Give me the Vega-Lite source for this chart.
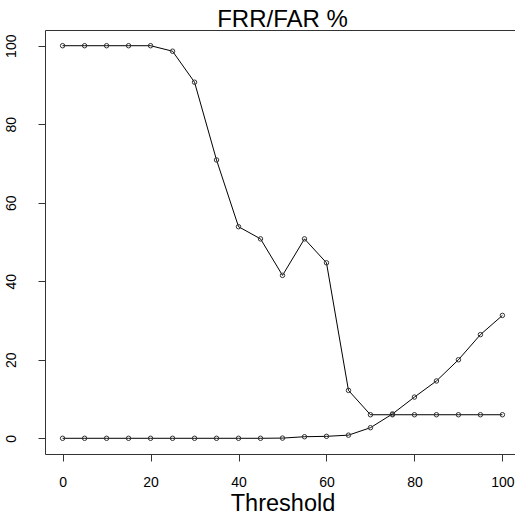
{
  "$schema": "https://vega.github.io/schema/vega-lite/v6.json",
  "autosize": "none",
  "padding": {"left": 45, "top": 30, "right": 0, "bottom": 61},
  "width": 475,
  "height": 424,
  "background": "white",
  "title": {
    "text": "FRR/FAR %",
    "font": "Liberation Sans",
    "fontSize": 24,
    "fontWeight": "normal",
    "color": "#000000",
    "anchor": "middle",
    "frame": "group",
    "baseline": "alphabetic",
    "offset": 4,
    "dy": 25
  },
  "config": {
    "view": {"stroke": "#333333", "strokeWidth": 1},
    "axis": {
      "grid": false,
      "domain": false,
      "tickColor": "#333333",
      "tickSize": 7,
      "labelFont": "Liberation Sans",
      "labelFontSize": 14,
      "labelColor": "#000000",
      "titleFont": "Liberation Sans",
      "titleFontWeight": "normal",
      "titleColor": "#000000"
    }
  },
  "data": {
    "values": [
      {"threshold": 0, "value": 100, "series": "FRR"},
      {"threshold": 5, "value": 100, "series": "FRR"},
      {"threshold": 10, "value": 100, "series": "FRR"},
      {"threshold": 15, "value": 100, "series": "FRR"},
      {"threshold": 20, "value": 100, "series": "FRR"},
      {"threshold": 25, "value": 98.6, "series": "FRR"},
      {"threshold": 30, "value": 90.7, "series": "FRR"},
      {"threshold": 35, "value": 70.9, "series": "FRR"},
      {"threshold": 40, "value": 53.9, "series": "FRR"},
      {"threshold": 45, "value": 50.8, "series": "FRR"},
      {"threshold": 50, "value": 41.5, "series": "FRR"},
      {"threshold": 55, "value": 50.8, "series": "FRR"},
      {"threshold": 60, "value": 44.7, "series": "FRR"},
      {"threshold": 65, "value": 12.2, "series": "FRR"},
      {"threshold": 70, "value": 6.0, "series": "FRR"},
      {"threshold": 75, "value": 6.0, "series": "FRR"},
      {"threshold": 80, "value": 6.0, "series": "FRR"},
      {"threshold": 85, "value": 6.0, "series": "FRR"},
      {"threshold": 90, "value": 6.0, "series": "FRR"},
      {"threshold": 95, "value": 6.0, "series": "FRR"},
      {"threshold": 100, "value": 6.0, "series": "FRR"},
      {"threshold": 0, "value": 0, "series": "FAR"},
      {"threshold": 5, "value": 0, "series": "FAR"},
      {"threshold": 10, "value": 0, "series": "FAR"},
      {"threshold": 15, "value": 0, "series": "FAR"},
      {"threshold": 20, "value": 0, "series": "FAR"},
      {"threshold": 25, "value": 0, "series": "FAR"},
      {"threshold": 30, "value": 0, "series": "FAR"},
      {"threshold": 35, "value": 0, "series": "FAR"},
      {"threshold": 40, "value": 0, "series": "FAR"},
      {"threshold": 45, "value": 0, "series": "FAR"},
      {"threshold": 50, "value": 0.05, "series": "FAR"},
      {"threshold": 55, "value": 0.4, "series": "FAR"},
      {"threshold": 60, "value": 0.5, "series": "FAR"},
      {"threshold": 65, "value": 0.8, "series": "FAR"},
      {"threshold": 70, "value": 2.7, "series": "FAR"},
      {"threshold": 75, "value": 6.2, "series": "FAR"},
      {"threshold": 80, "value": 10.5, "series": "FAR"},
      {"threshold": 85, "value": 14.6, "series": "FAR"},
      {"threshold": 90, "value": 20.0, "series": "FAR"},
      {"threshold": 95, "value": 26.4, "series": "FAR"},
      {"threshold": 100, "value": 31.3, "series": "FAR"}
    ]
  },
  "encoding": {
    "x": {
      "field": "threshold",
      "type": "quantitative",
      "scale": {"domain": [-4, 104], "nice": false, "zero": false},
      "axis": {
        "values": [0, 20, 40, 60, 80, 100],
        "title": "Threshold",
        "titleFontSize": 23.5,
        "labelPadding": 14,
        "labelBaseline": "top",
        "titlePadding": 2
      }
    },
    "y": {
      "field": "value",
      "type": "quantitative",
      "scale": {"domain": [-4, 104], "nice": false, "zero": false},
      "axis": {
        "values": [0, 20, 40, 60, 80, 100],
        "title": null,
        "labelAngle": 270,
        "labelAlign": "center",
        "labelBaseline": "bottom",
        "labelPadding": 20
      }
    },
    "detail": {"field": "series", "type": "nominal"}
  },
  "layer": [
    {"mark": {"type": "line", "color": "#000000", "strokeWidth": 1}},
    {"mark": {"type": "point", "shape": "circle", "filled": false, "color": "#333333", "strokeWidth": 1, "size": 20, "opacity": 1}}
  ]
}
